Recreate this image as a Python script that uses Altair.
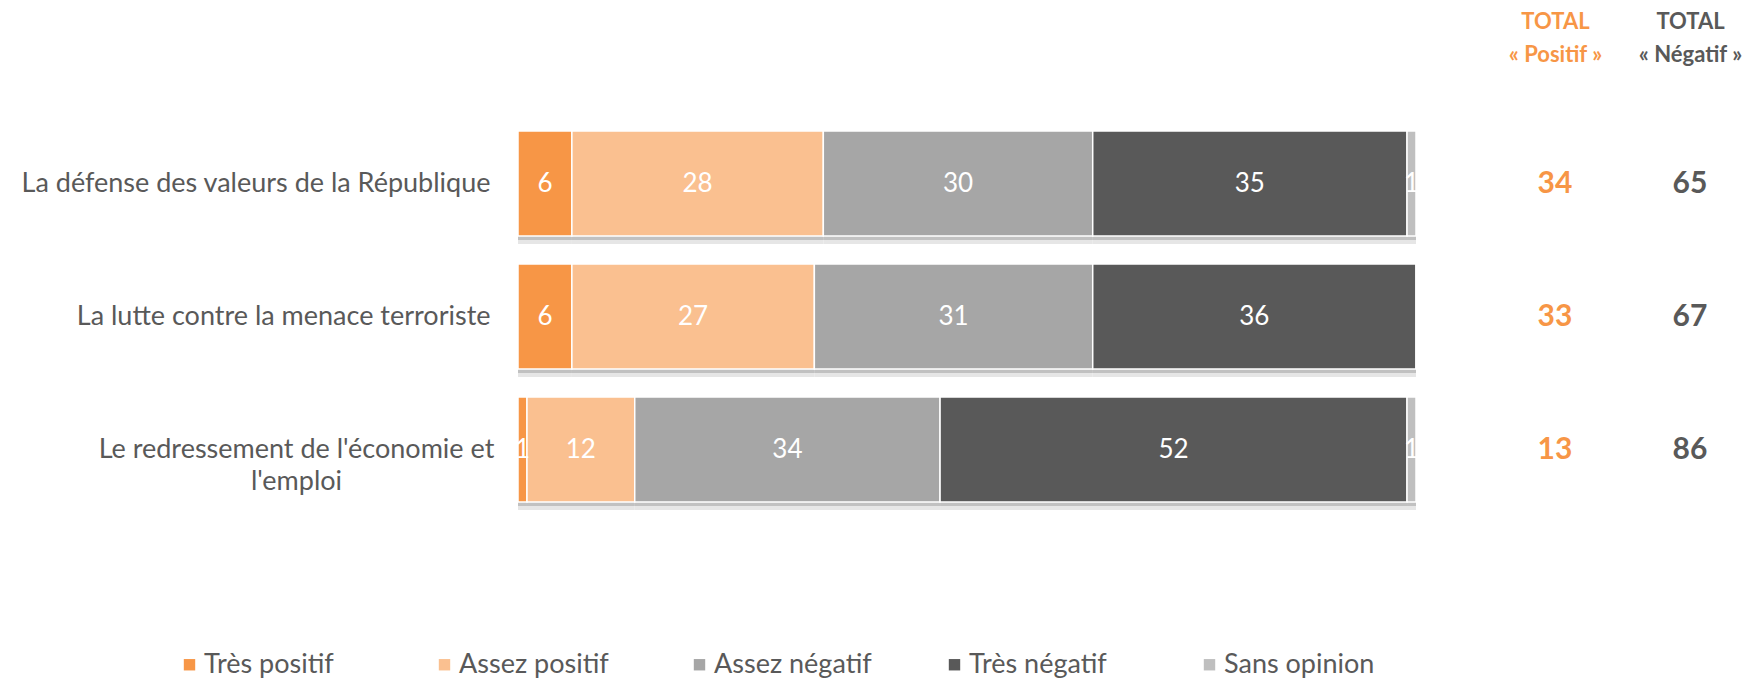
import altair as alt
import pandas as pd

items = [
    "La défense des valeurs de la République",
    "La lutte contre la menace terroriste",
    "Le redressement de l'économie et\nl'emploi",
]
categories = ["Très positif", "Assez positif", "Assez négatif", "Très négatif", "Sans opinion"]
colors = ["#F79646", "#FAC090", "#A6A6A6", "#595959", "#BFBFBF"]

tres_positif = [6, 6, 1]
assez_positif = [28, 27, 12]
assez_negatif = [30, 31, 34]
tres_negatif = [35, 36, 52]
sans_opinion = [1, 0, 1]

total_positif = [34, 33, 13]
total_negatif = [65, 67, 86]
total_cols = ["Positif", "Négatif"]

series = [tres_positif, assez_positif, assez_negatif, tres_negatif, sans_opinion]

rows = []
for i, it in enumerate(items):
    for k, (cat, vals) in enumerate(zip(categories, series)):
        rows.append({"item": it, "cat": cat, "ord": k, "value": vals[i]})
df = pd.DataFrame(rows)

trows = []
for i, it in enumerate(items):
    trows.append({"item": it, "col": "Positif", "total": total_positif[i]})
    trows.append({"item": it, "col": "Négatif", "total": total_negatif[i]})
tdf = pd.DataFrame(trows)

FONT = "Lato"
GRAY = "#595959"
ORANGE = "#F79646"

multi_test = "indexof(datum.label, '\\n') >= 0"

y_enc = alt.Y(
    "item:N",
    sort=items,
    scale=alt.Scale(paddingInner=0.21, paddingOuter=0.105),
    axis=alt.Axis(
        title=None, domain=False, ticks=False, labelFont=FONT, labelFontSize=27,
        labelColor=GRAY, labelLimit=0, minExtent=510, maxExtent=510,
        labelAlign={"condition": {"test": multi_test, "value": "center"}, "value": "right"},
        labelPadding={"condition": {"test": multi_test, "value": 222}, "value": 28},
        labelExpr="split(datum.label, '\\n')", labelLineHeight=32,
    ),
)

xs = alt.Scale(domain=[0, 100], nice=False, zero=True)

base = (
    alt.Chart(df)
    .transform_stack(
        stack="value", groupby=["item"],
        sort=[alt.SortField("ord", order="ascending")], as_=["v0", "v1"],
    )
    .transform_calculate(mid="(datum.v0 + datum.v1) / 2")
)

shadow_far = base.mark_bar(color="#e6e6e6", yOffset=8).encode(
    x=alt.X("v0:Q", scale=xs, axis=None), x2="v1:Q", y=y_enc
)
shadow_near = base.mark_bar(color="#b8b8b8", yOffset=4, opacity=0.8).encode(
    x=alt.X("v0:Q", scale=xs, axis=None), x2="v1:Q", y=y_enc
)

bars = base.mark_bar(stroke="white", strokeWidth=1.5).encode(
    x=alt.X("v0:Q", scale=xs, axis=None),
    x2="v1:Q",
    y=y_enc,
    color=alt.Color(
        "cat:N",
        scale=alt.Scale(domain=categories, range=colors),
        legend=alt.Legend(
            title=None, orient="none", legendX=-342, legendY=534,
            direction="horizontal", columns=5, gridAlign="all", columnPadding=69,
            symbolType="square", symbolSize=130, symbolStrokeWidth=0,
            labelFont=FONT, labelFontSize=27, labelColor=GRAY, labelOffset=1,
            padding=0, labelLimit=0,
        ),
    ),
)

labels = base.transform_filter("datum.value > 0").mark_text(
    font=FONT, fontSize=26, color="white"
).encode(
    x=alt.X("mid:Q", scale=xs, axis=None),
    y=y_enc,
    text="value:Q",
)

left = alt.layer(shadow_far, shadow_near, bars, labels).properties(width=898, height=399)

right = alt.Chart(tdf).mark_text(font=FONT, fontSize=30, fontWeight="bold").encode(
    x=alt.X(
        "col:N", sort=total_cols,
        scale=alt.Scale(type="point", padding=0.2407),
        axis=alt.Axis(
            orient="top", title=None, domain=False, ticks=False, labelAngle=0,
            labelFont=FONT, labelFontSize=22, labelFontWeight="bold",
            labelColor={"condition": {"test": "datum.value == 'Positif'", "value": ORANGE}, "value": GRAY},
            labelExpr="['TOTAL', '« ' + datum.label + ' »']",
            labelPadding=84, labelLineHeight=33,
        ),
    ),
    y=alt.Y("item:N", sort=items, axis=None, scale=alt.Scale(type="point", padding=0.5)),
    text="total:Q",
    color=alt.condition("datum.col == 'Positif'", alt.value(ORANGE), alt.value(GRAY)),
).properties(width=200, height=399)

chart = (
    alt.hconcat(left, right, spacing=106.5, bounds="flush")
    .properties(padding={"left": 0, "top": 2, "right": 0, "bottom": 0})
    .configure_view(stroke=None)
)

chart.save("out.html", embed_options={"renderer": "svg", "actions": False})
